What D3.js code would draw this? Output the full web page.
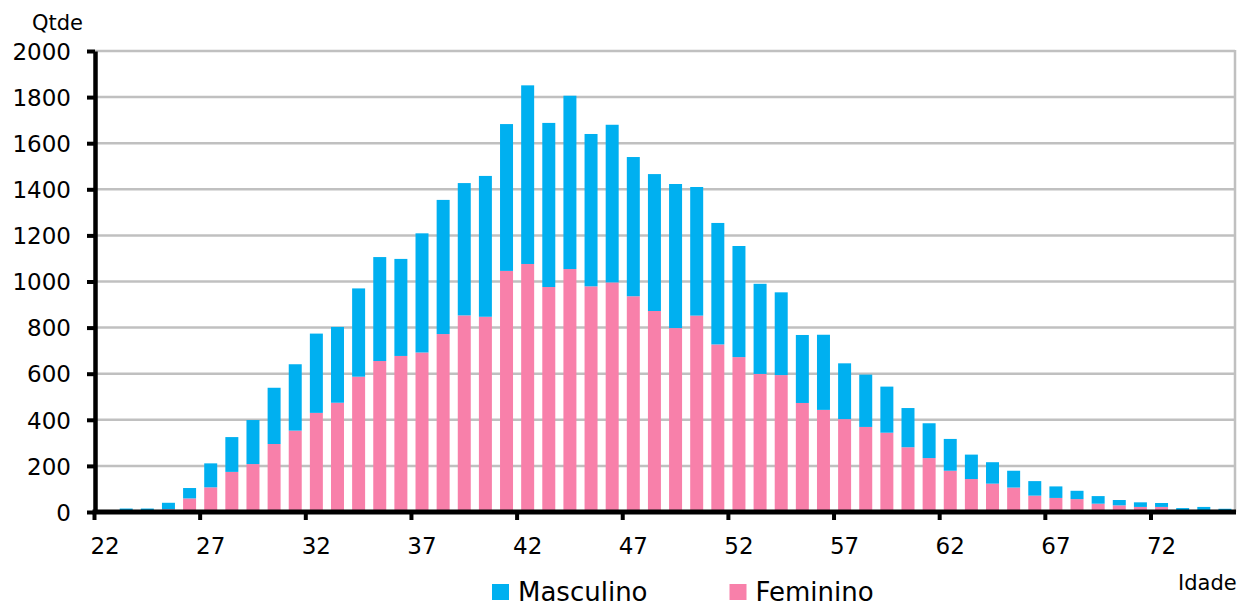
<!DOCTYPE html>
<html>
<head>
<meta charset="utf-8">
<script src="https://cdn.jsdelivr.net/npm/d3@7"></script>
<style>
  body { margin: 0; background: #fff; }
  text { font-family: "DejaVu Sans", sans-serif; fill: #000; }
</style>
</head>
<body>
<div id="chart"></div>
<script>
// idades 22..75
var idades = d3.range(22, 76);
var tickLabels = [22, 27, 32, 37, 42, 47, 52, 57, 62, 67, 72];
var yTicks = [0, 200, 400, 600, 800, 1000, 1200, 1400, 1600, 1800, 2000];

var feminino = [0, 2, 2, 12, 59, 107, 174, 208, 295, 353,
                430, 474, 587, 655, 677, 692, 772, 853, 847, 1046,
                1076, 976, 1054, 979, 996, 936, 872, 798, 852, 727,
                672, 599, 594, 473, 443, 403, 369, 344, 281, 234,
                179, 143, 123, 106, 71, 61, 56, 36, 29, 22,
                22, 3, 6, 3];
var masculino = [0, 13, 13, 28, 45, 104, 151, 191, 244, 288,
                 344, 329, 383, 451, 421, 517, 582, 574, 611, 637,
                 775, 712, 752, 661, 684, 604, 594, 625, 558, 527,
                 482, 391, 359, 295, 326, 242, 227, 200, 170, 151,
                 138, 106, 93, 73, 63, 50, 36, 33, 23, 20,
                 17, 14, 16, 11];

var series = ["Feminino", "Masculino"];
var colors = { "Masculino": "#00b0f0", "Feminino": "#f880aa" };

var width = 1253, height = 607;
var plotLeft = 95, plotRight = 1235, plotTop = 51, plotBottom = 512;

var table = idades.map(function(a, i) {
  return { idade: a, Feminino: feminino[i], Masculino: masculino[i] };
});

var svg = d3.select("#chart").append("svg")
            .attr("width", width)
            .attr("height", height);

var x = d3.scaleBand()
          .domain(idades)
          .range([plotLeft - 0.5, plotRight + 0.5])
          .paddingInner(0.385)
          .paddingOuter(0.1925);

var y = d3.scaleLinear()
          .domain([0, 2000])
          .range([plotBottom, plotTop]);

// gridlines
svg.append("g")
   .selectAll("line")
   .data(yTicks)
   .enter().append("line")
   .attr("x1", plotLeft)
   .attr("x2", plotRight)
   .attr("y1", function(d) { return y(d); })
   .attr("y2", function(d) { return y(d); })
   .attr("stroke", "#c0c0c0")
   .attr("stroke-width", 2.5);

// right border of plot area
svg.append("line")
   .attr("x1", plotRight).attr("x2", plotRight)
   .attr("y1", plotTop - 1).attr("y2", plotBottom)
   .attr("stroke", "#c0c0c0")
   .attr("stroke-width", 2.5);

var stacked = d3.stack().keys(series)(table);

svg.append("g")
   .selectAll("g")
   .data(stacked)
   .enter().append("g")
   .attr("fill", function(d) { return colors[d.key]; })
   .selectAll("rect")
   .data(function(d) { return d; })
   .enter().append("rect")
   .attr("x", function(d) { return x(d.data.idade); })
   .attr("width", x.bandwidth())
   .attr("y", function(d) { return y(d[1]); })
   .attr("height", function(d) { return y(d[0]) - y(d[1]); });

// y axis
var yAxis = svg.append("g")
   .attr("transform", "translate(" + plotLeft + ",0)")
   .call(d3.axisLeft(y).tickValues(yTicks).tickFormat(d3.format("d"))
           .tickSize(8).tickSizeOuter(0).tickPadding(16));
yAxis.select(".domain").attr("stroke", "#000").attr("stroke-width", 4.5);
yAxis.selectAll(".tick line").attr("stroke", "#000").attr("stroke-width", 4);
yAxis.selectAll(".tick text")
     .style("font-family", "'DejaVu Sans', sans-serif")
     .style("font-size", "23px")
     .attr("dy", "0.36em");

// x axis
var gap = (x.step() - x.bandwidth()) / 2;
var xAxis = svg.append("g")
   .attr("transform", "translate(0," + plotBottom + ")");
xAxis.append("line")
     .attr("x1", plotLeft - 2.5)
     .attr("x2", plotRight + 1)
     .attr("stroke", "#000")
     .attr("stroke-width", 5);
xAxis.selectAll(".tk")
     .data(tickLabels)
     .enter().append("line")
     .attr("class", "tk")
     .attr("x1", function(d) { return x(d) - gap; })
     .attr("x2", function(d) { return x(d) - gap; })
     .attr("y1", 0)
     .attr("y2", 8)
     .attr("stroke", "#000")
     .attr("stroke-width", 4);
xAxis.selectAll(".lbl")
     .data(tickLabels)
     .enter().append("text")
     .attr("class", "lbl")
     .attr("x", function(d) { return x(d) + x.bandwidth() / 2; })
     .attr("y", 42)
     .attr("text-anchor", "middle")
     .style("font-size", "23px")
     .text(function(d) { return d; });

// axis titles
svg.append("text")
   .attr("x", 32).attr("y", 30)
   .style("font-size", "21px")
   .text("Qtde");
svg.append("text")
   .attr("x", 1178).attr("y", 590)
   .style("font-size", "21px")
   .text("Idade");

// legend
var legend = svg.append("g")
   .selectAll("g")
   .data(["Masculino", "Feminino"])
   .enter().append("g")
   .attr("transform", function(d, i) { return "translate(" + (492 + i * 237.5) + ",584)"; });
legend.append("rect")
      .attr("width", 17)
      .attr("height", 16)
      .attr("fill", function(d) { return colors[d]; });
legend.append("text")
      .attr("x", 26)
      .attr("y", 16.5)
      .style("font-size", "26px")
      .text(function(d) { return d; });
</script>
</body>
</html>
